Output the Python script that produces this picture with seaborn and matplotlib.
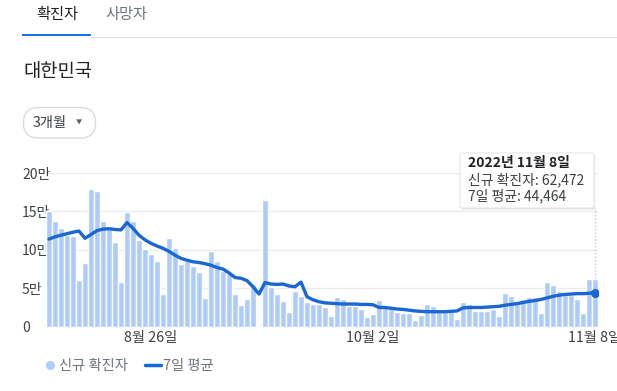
import matplotlib
matplotlib.use('Agg')
import matplotlib.pyplot as plt
from matplotlib.patches import FancyBboxPatch, Rectangle
from matplotlib.lines import Line2D
from matplotlib.transforms import IdentityTransform
import seaborn as sns
import pandas as pd

# daily values, Aug 9 - Nov 8 2022
dates = pd.date_range('2022-08-09', '2022-11-08', freq='D')
new_cases = [151000, 137000, 128000, 119000, 118500, 61000, 83000, 179000, 177000, 138000,
             129000, 110000, 58000, 149000, 138000, 113000, 101000, 95000, 85000, 43000,
             115000, 103000, 81000, 85000, 79000, 71500, 37500, 99000, 85000, 72000,
             69000, 42500, 28000, 36000, 56000, 0, 164500, 52000, 42500, 34000,
             19000, 47000, 40000, 32500, 29000, 29000, 25000, 14000, 38500, 35500,
             27500, 27500, 23500, 12000, 16000, 34500, 28000, 22500, 19000, 18000,
             17500, 9000, 15000, 30000, 27000, 19500, 19500, 19500, 10500, 32500,
             29000, 20500, 20500, 20500, 23500, 14000, 43500, 40000, 31000, 35500,
             38000, 38000, 18000, 58000, 54000, 46500, 41000, 41000, 35500, 18000,
             62000, 62472]
avg_7d = [114000, 117000, 119000, 121000, 123000, 124500, 115000, 120000, 125000, 127000,
          127500, 126500, 126000, 135500, 128000, 119000, 113000, 108500, 105000, 102000,
          98000, 93000, 89000, 86500, 84500, 83500, 82000, 80000, 77000, 75000,
          70000, 64000, 63000, 60000, 52000, 42500, 57500, 55500, 55000, 55500,
          53000, 52000, 58000, 39000, 35000, 32500, 31000, 30500, 30000, 29500,
          29500, 29500, 29000, 29000, 28500, 25000, 25000, 24000, 23000, 22500,
          21500, 20500, 20000, 19500, 19500, 19500, 19500, 20000, 20500, 24500,
          25000, 25000, 25000, 25500, 26000, 26500, 28000, 29000, 30000, 31500,
          33000, 34000, 35500, 37500, 39500, 41000, 42000, 42500, 43000, 43000,
          43500, 44464]
tick_dates = ['2022-08-26', '2022-10-02', '2022-11-08']
tick_labels = ['8월 26일', '10월 2일', '11월 8일']
y_ticks = [0, 50000, 100000, 150000, 200000]
y_labels = ['0', '5만', '10만', '15만', '20만']

BAR = '#aecbfa'
LINE = '#1967d2'
DARK = '#202124'
GREY = '#70757a'
W, H = 617, 391

sns.set_theme(style='white')
plt.rcParams['font.family'] = ['Noto Sans CJK KR', 'DejaVu Sans']

df = pd.DataFrame({'day': range(len(dates)), 'cases': new_cases, 'avg': avg_7d})

fig = plt.figure(figsize=(W / 100, H / 100), dpi=100)
ax = fig.add_axes([46 / W, (H - 326.7) / H, 552 / W, 153.7 / H])

sns.barplot(data=df, x='day', y='cases', color=BAR, saturation=1, width=0.84,
            order=list(range(len(dates))), ax=ax, zorder=2)
sns.lineplot(data=df, x='day', y='avg', color=LINE, lw=2.4, ax=ax, zorder=3)

last = len(dates) - 1
ax.plot([last], [avg_7d[-1]], 'o', color=LINE, ms=5.5, zorder=4)
ax.axvline(last, ymin=0, ymax=0.772, color='#c8c8c8', lw=1, ls=(0, (1, 1.5)), zorder=1)

ax.set_xlim(-0.5, last + 0.5)
ax.set_ylim(0, 200000)
ax.set_yticks(y_ticks)
ax.set_yticklabels(y_labels)
ax.set_xticks([list(dates).index(pd.Timestamp(d)) for d in tick_dates])
ax.set_xticklabels(tick_labels)
ax.tick_params(axis='y', length=0, pad=17.3, labelsize=10, labelcolor='#3c4043')
ax.tick_params(axis='x', length=0, pad=2.8, labelsize=10.3, labelcolor='#3c4043')
for lab in ax.get_yticklabels():
    lab.set_ha('left')
ax.yaxis.grid(True, color='#ebebeb', lw=1)
ax.set_axisbelow(True)
ax.set_xlabel('')
ax.set_ylabel('')
for s in ax.spines.values():
    s.set_visible(False)

px = IdentityTransform()

# tabs
fig.text(57 / W, 1 - 15 / H, '확진자', ha='center', va='center', fontsize=11, color=DARK)
fig.text(126 / W, 1 - 15 / H, '사망자', ha='center', va='center', fontsize=11, color=GREY)
fig.add_artist(Rectangle((91, H - 37.8), W - 91, 1, transform=px, color='#e0e0e0', lw=0))
fig.add_artist(Rectangle((22, H - 36.2), 69, 2.7, transform=px, color='#1a73e8', lw=0))

fig.text(23 / W, 1 - 72 / H, '대한민국', ha='left', va='center', fontsize=13.5, color=DARK)

# range button
fig.add_artist(FancyBboxPatch((23.5, H - 138), 72, 30.5, transform=px,
                              boxstyle='round,pad=0,rounding_size=15',
                              fc='white', ec='#dadce0', lw=1))
fig.text(33 / W, 1 - 123 / H, '3개월', ha='left', va='center', fontsize=10.3, color='#3c4043')
fig.text(79 / W, 1 - 123 / H, '▼', ha='center', va='center', fontsize=4.5, color='#5f6368')

# tooltip
fig.add_artist(FancyBboxPatch((461, H - 209.5), 134, 55, transform=px,
                              boxstyle='round,pad=0,rounding_size=2',
                              fc='#d0d0d0', ec='none', alpha=0.6))
fig.add_artist(FancyBboxPatch((460, H - 208), 134, 55, transform=px,
                              boxstyle='round,pad=0,rounding_size=2',
                              fc='white', ec='#e6e6e6', lw=0.8))
fig.text(468 / W, 1 - 163 / H, '2022년 11월 8일', ha='left', va='center',
         fontsize=10, fontweight='bold', color=DARK)
fig.text(468 / W, 1 - 180 / H, '신규 확진자: 62,472', ha='left', va='center',
         fontsize=10, color='#3c4043')
fig.text(468 / W, 1 - 196 / H, '7일 평균: 44,464', ha='left', va='center',
         fontsize=10, color='#3c4043')

# legend
handles = [Line2D([], [], marker='o', ls='', color=BAR, ms=5.5),
           Line2D([], [], color=LINE, lw=2.5)]
fig.legend(handles, ['신규 확진자', '7일 평균'], ncol=2, loc='center left',
           bbox_to_anchor=(42 / W, 1 - 366 / H), frameon=False, fontsize=10.3,
           labelcolor=GREY, handlelength=1.05, handletextpad=0.17,
           columnspacing=1.2, borderpad=0, borderaxespad=0)

fig.savefig('out.png', dpi=100)
